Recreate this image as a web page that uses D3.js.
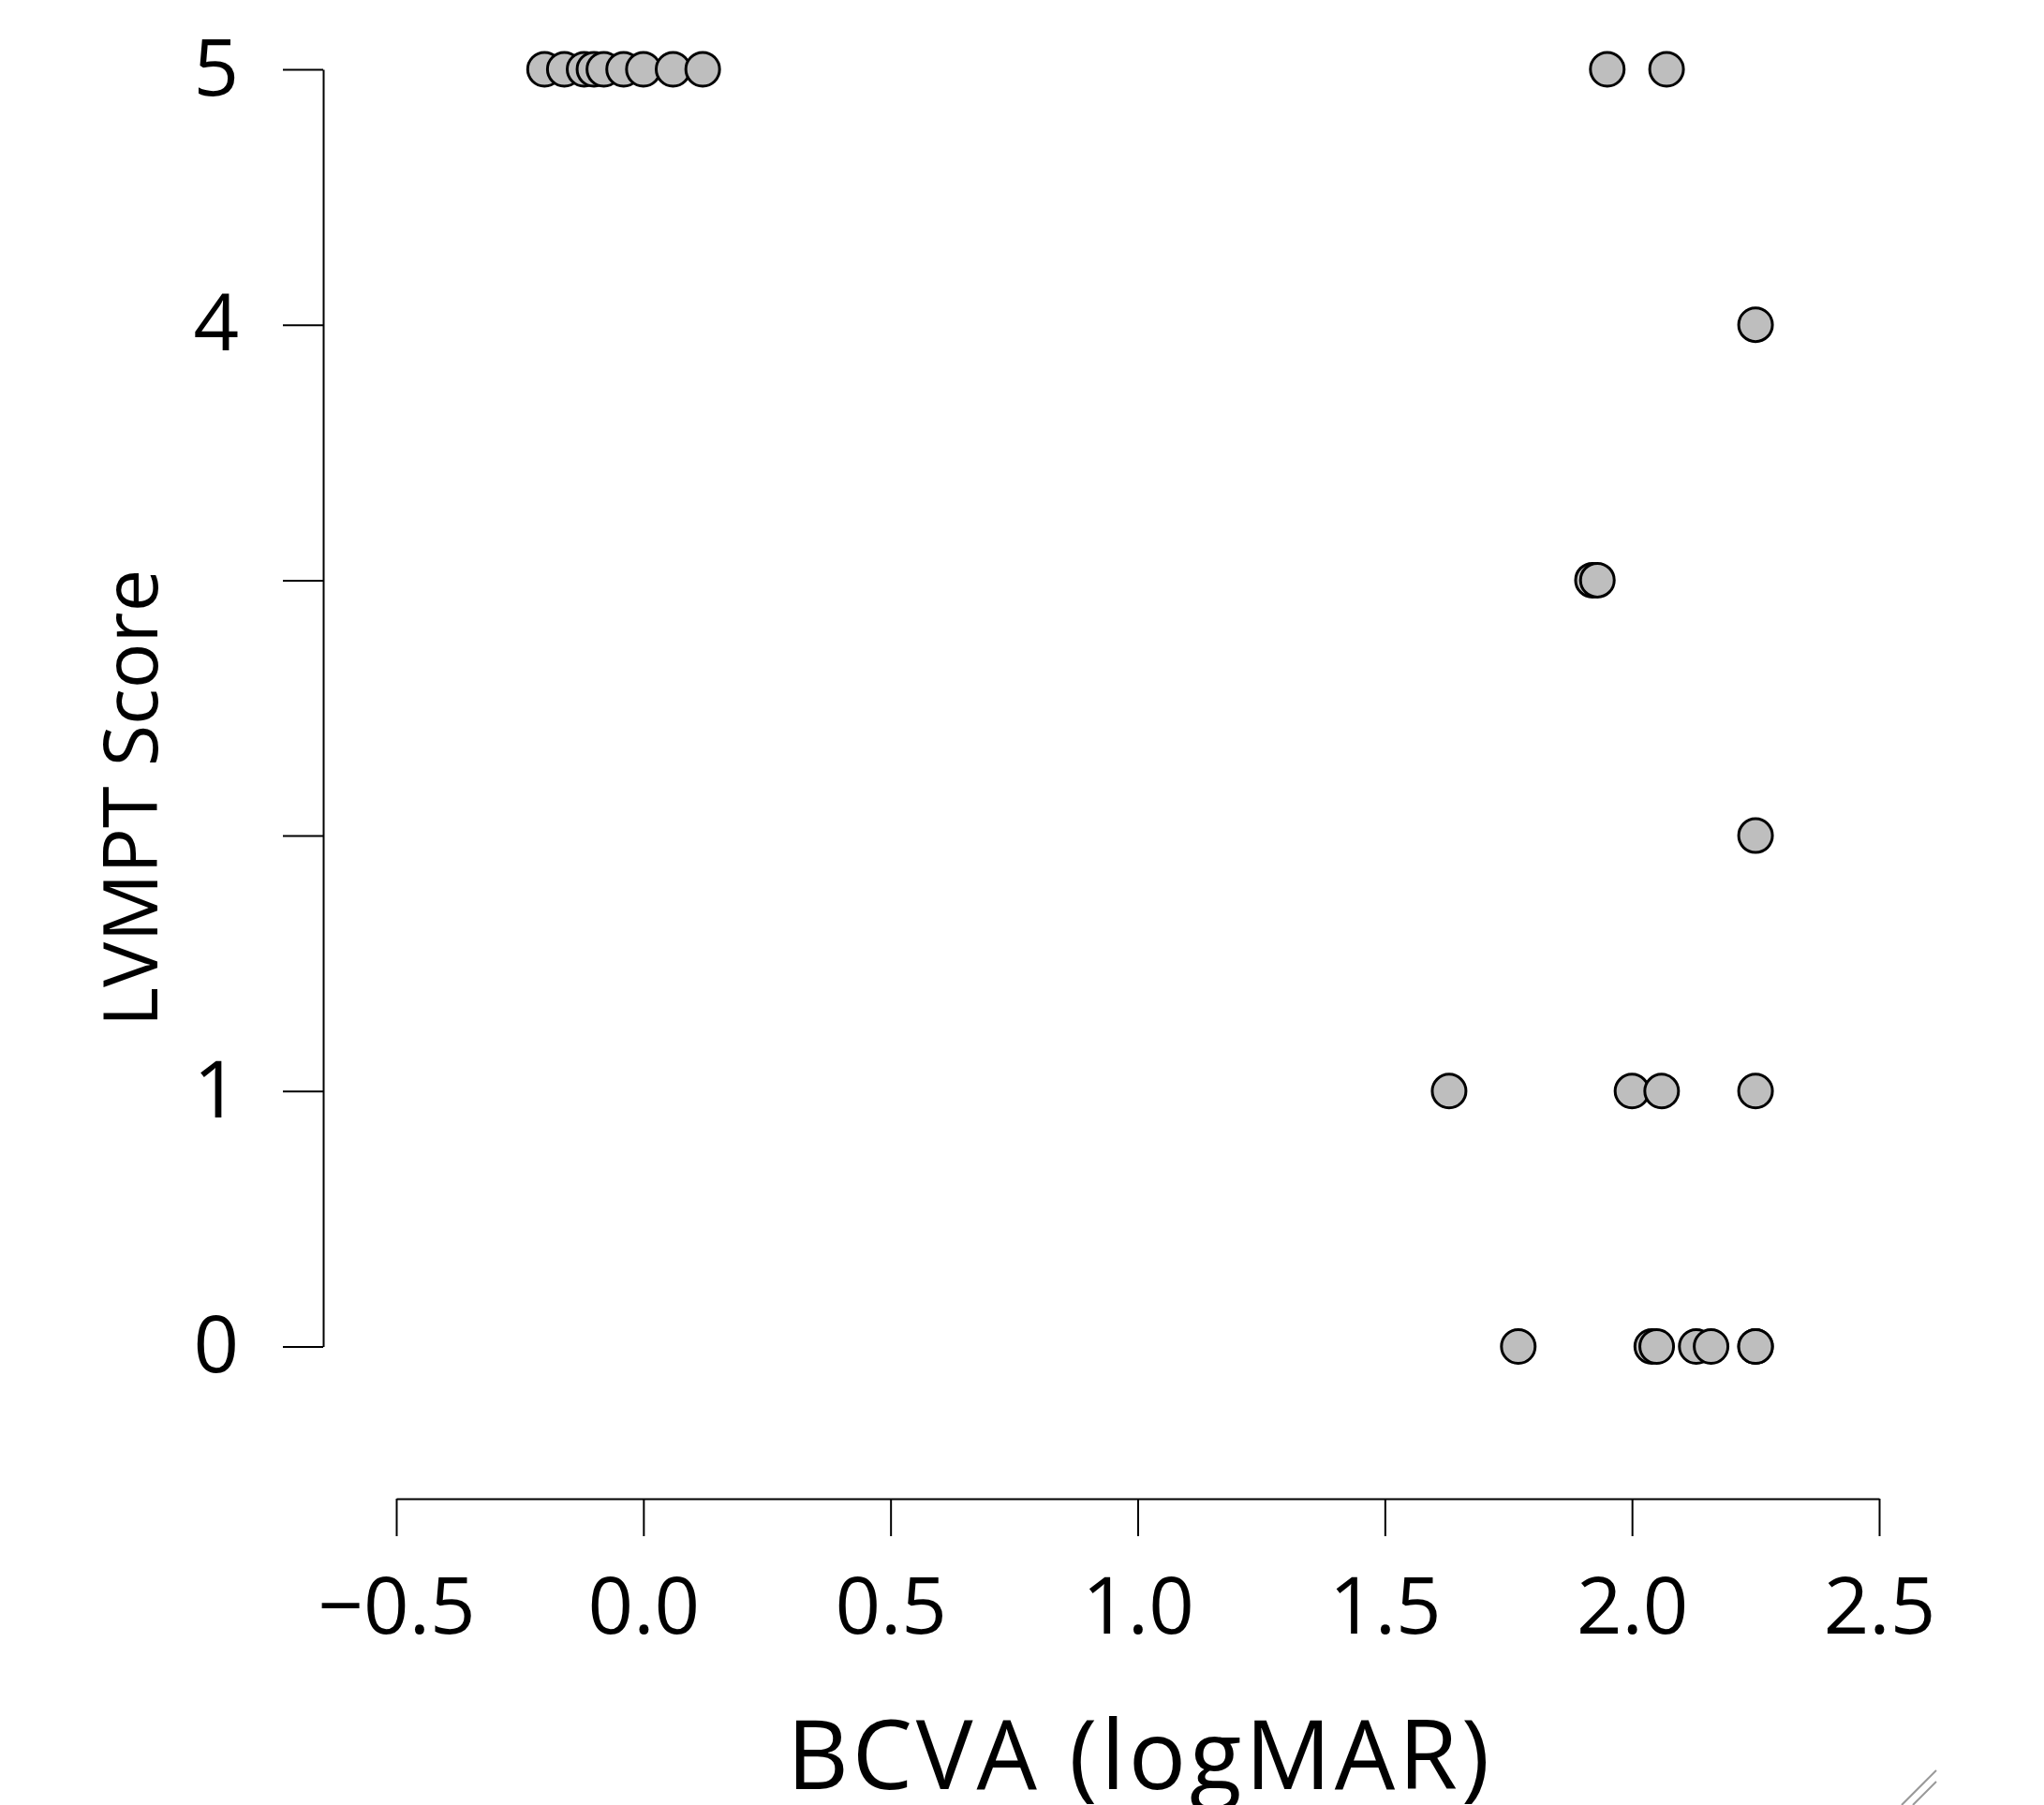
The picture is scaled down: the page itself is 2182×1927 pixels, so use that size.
<!DOCTYPE html>
<html>

<head>
  <meta charset="utf-8">
  <title>LVMPT vs BCVA</title>
  <script src="https://cdn.jsdelivr.net/npm/d3@7/dist/d3.min.js"></script>
  <style>
    body { margin: 0; background: #fff; }
    text { font-family: 'Open Sans', sans-serif; fill: #000; }
  </style>
</head>

<body>
  <svg width="2182" height="1927" id="mainsvg"></svg>
  <script>
    // BCVA (logMAR) and LVMPT score for each eye
    const bcva = [
      -0.20, -0.16, -0.12, -0.10, -0.08, -0.04, 0.00, 0.06, 0.12,
      1.95, 2.07,
      2.25,
      1.92, 1.93,
      2.25,
      1.63, 2.00, 2.06, 2.25,
      1.77, 2.04, 2.05, 2.13, 2.16, 2.25, 2.25
    ];
    const lvmpt = [
      5, 5, 5, 5, 5, 5, 5, 5, 5,
      5, 5,
      4,
      3, 3,
      2,
      1, 1, 1, 1,
      0, 0, 0, 0, 0, 0, 0
    ];
    const xTicks = [-0.5, 0.0, 0.5, 1.0, 1.5, 2.0, 2.5];
    const yTicks = [0, 1, 2, 3, 4, 5];
    const yTickLabels = ['0', '1', '', '', '4', '5']; // 2 and 3 have no label in the original

    const svg = d3.select('#mainsvg');
    const data = bcva.map((x, i) => ({ x: x, y: lvmpt[i] }));

    const xScale = d3.scaleLinear().domain([-0.5, 2.5]).range([423, 2006]);
    const yScale = d3.scaleLinear().domain([0, 5]).range([1437.5, 74]);

    // y axis
    const yAxis = d3.axisLeft(yScale)
      .tickValues(yTicks)
      .tickFormat((d, i) => yTickLabels[i])
      .tickSize(43)
      .tickSizeOuter(0)
      .tickPadding(47);
    const yAxisGroup = svg.append('g')
      .attr('transform', 'translate(345,0)')
      .call(yAxis);
    yAxisGroup.selectAll('text').attr('font-size', 85).attr('font-family', null);

    // x axis, detached below the plot
    const xAxis = d3.axisBottom(xScale)
      .tickValues(xTicks)
      .tickFormat(d3.format('.1f'))
      .tickSize(40)
      .tickSizeOuter(0);
    const xAxisGroup = svg.append('g')
      .attr('transform', 'translate(0,1600)')
      .call(xAxis);
    xAxisGroup.selectAll('text')
      .attr('font-size', 85)
      .attr('font-family', null)
      .attr('y', 144)
      .attr('dy', 0);

    svg.selectAll('.domain, .tick line')
      .attr('stroke', '#000')
      .attr('stroke-width', 2);

    // points
    svg.append('g')
      .selectAll('circle')
      .data(data)
      .enter()
      .append('circle')
      .attr('cx', d => xScale(d.x))
      .attr('cy', d => yScale(d.y))
      .attr('r', 18)
      .attr('fill', '#bebebe')
      .attr('stroke', '#000')
      .attr('stroke-width', 3);

    // axis titles
    svg.append('text')
      .attr('transform', 'translate(168,852) rotate(-90)')
      .attr('text-anchor', 'middle')
      .attr('font-size', 81)
      .text('LVMPT Score');

    svg.append('text')
      .attr('x', 1215)
      .attr('y', 1910)
      .attr('text-anchor', 'middle')
      .attr('font-size', 102)
      .attr('textLength', 750)
      .attr('lengthAdjust', 'spacing')
      .text('BCVA (logMAR)');

    // window resize grip in the corner of the screenshot
    const grip = svg.append('g').attr('stroke', '#999').attr('stroke-width', 2);
    grip.append('line').attr('x1', 2030).attr('y1', 1927).attr('x2', 2067).attr('y2', 1890);
    grip.append('line').attr('x1', 2042).attr('y1', 1927).attr('x2', 2067).attr('y2', 1902);
  </script>
</body>

</html>
